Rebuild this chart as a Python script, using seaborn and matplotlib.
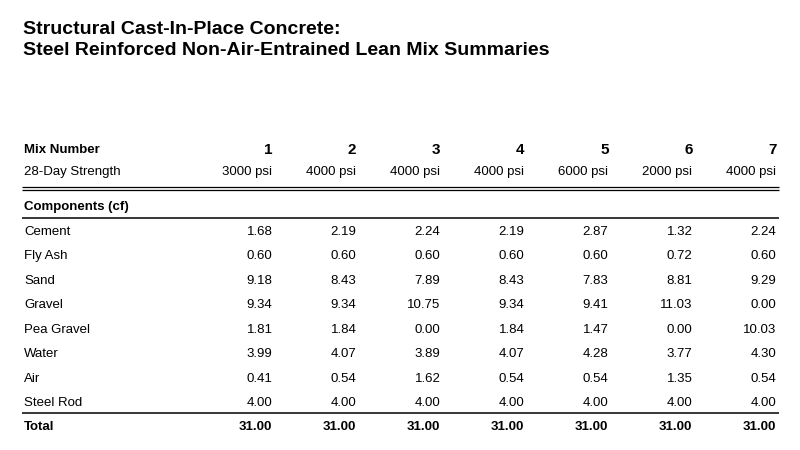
import matplotlib
matplotlib.use("Agg")
import matplotlib.pyplot as plt
import seaborn as sns

# --- data ---
title_lines = ["Structural Cast-In-Place Concrete:",
               "Steel Reinforced Non-Air-Entrained Lean Mix Summaries"]
mix_numbers = ["1", "2", "3", "4", "5", "6", "7"]
strengths = ["3000 psi", "4000 psi", "4000 psi", "4000 psi", "6000 psi", "2000 psi", "4000 psi"]
components = ["Cement", "Fly Ash", "Sand", "Gravel", "Pea Gravel", "Water", "Air", "Steel Rod"]
cement = [1.68, 2.19, 2.24, 2.19, 2.87, 1.32, 2.24]
fly_ash = [0.60, 0.60, 0.60, 0.60, 0.60, 0.72, 0.60]
sand = [9.18, 8.43, 7.89, 8.43, 7.83, 8.81, 9.29]
gravel = [9.34, 9.34, 10.75, 9.34, 9.41, 11.03, 0.00]
pea_gravel = [1.81, 1.84, 0.00, 1.84, 1.47, 0.00, 10.03]
water = [3.99, 4.07, 3.89, 4.07, 4.28, 3.77, 4.30]
air = [0.41, 0.54, 1.62, 0.54, 0.54, 1.35, 0.54]
steel_rod = [4.00, 4.00, 4.00, 4.00, 4.00, 4.00, 4.00]
totals = [31.00, 31.00, 31.00, 31.00, 31.00, 31.00, 31.00]
values = [cement, fly_ash, sand, gravel, pea_gravel, water, air, steel_rod]

# --- layout (pixel coords) ---
LEFT = 24
COL0 = 272.5
COL_STEP = 84.0
ROW0 = 235
ROW_STEP = 24.43
LINE_L, LINE_R = 22, 779
BODY = 9.5

sns.set_theme(style="white")
plt.rcParams['font.family'] = ['Liberation Sans', 'DejaVu Sans']
plt.rcParams['text.color'] = 'black'

fig = plt.figure(figsize=(8, 4.5), dpi=100)
ax = fig.add_axes([0, 0, 1, 1])
ax.set_xlim(0, 800)
ax.set_ylim(450, 0)
ax.axis("off")

def col_x(j):
    return COL0 + j * COL_STEP

# titles
ax.text(LEFT - 1, 34, title_lines[0], fontsize=14, fontweight="bold", va="baseline")
ax.text(LEFT - 1, 55, title_lines[1], fontsize=14, fontweight="bold", va="baseline")

# header
ax.text(LEFT, 153, "Mix Number", fontsize=BODY, fontweight="bold", va="baseline")
ax.text(LEFT, 175, "28-Day Strength", fontsize=BODY, va="baseline")
for j, (m, s) in enumerate(zip(mix_numbers, strengths)):
    ax.text(col_x(j), 153.5, m, fontsize=11, fontweight="bold", ha="right", va="baseline")
    ax.text(col_x(j), 175, s, fontsize=BODY, ha="right", va="baseline")

# double rule
ax.plot([LINE_L, LINE_R], [187, 187], color="black", lw=0.9, solid_capstyle="butt")
ax.plot([LINE_L, LINE_R], [190, 190], color="black", lw=0.9, solid_capstyle="butt")

ax.text(LEFT, 210, "Components (cf)", fontsize=BODY, fontweight="bold", va="baseline")
ax.plot([LINE_L, LINE_R], [217.5, 217.5], color="black", lw=1.1, solid_capstyle="butt")

# component rows
for i, (name, row) in enumerate(zip(components, values)):
    y = ROW0 + i * ROW_STEP
    ax.text(LEFT, y, name, fontsize=BODY, va="baseline")
    for j, v in enumerate(row):
        ax.text(col_x(j), y, f"{v:.2f}", fontsize=BODY, ha="right", va="baseline")

ax.plot([LINE_L, LINE_R], [412.5, 412.5], color="black", lw=1.1, solid_capstyle="butt")

# total
ax.text(LEFT, 430, "Total", fontsize=BODY, fontweight="bold", va="baseline")
for j, v in enumerate(totals):
    ax.text(col_x(j), 430, f"{v:.2f}", fontsize=BODY, fontweight="bold", ha="right", va="baseline")

fig.savefig("out.png", dpi=100, facecolor="white")
